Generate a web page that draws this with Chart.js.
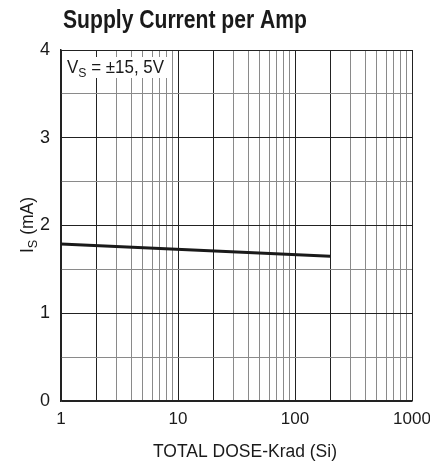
<!DOCTYPE html>
<html>
<head>
<meta charset="utf-8">
<script src="https://cdn.jsdelivr.net/npm/chart.js@4.4.0/dist/chart.umd.min.js"></script>
<style>
  html, body { margin: 0; padding: 0; background: #fff; }
  #wrap { width: 430px; height: 461px; }
</style>
</head>
<body>
<div id="wrap"><canvas id="chart" width="430" height="461"></canvas></div>
<script>
const doseKrad = [1, 200];
const supplyCurrent = [1.79, 1.65];
const xTickLabels = [1, 10, 100, 1000];
const yTickLabels = [0, 1, 2, 3, 4];

const FONT = "'Liberation Sans', Arial, sans-serif";
const INK = '#1a1a1a';

// log grid: 1..9, 10..90, 100..900, 1000
const logTicks = [];
for (let d = 1; d < 1000; d *= 10) {
  for (let m = 1; m < 10; m++) logTicks.push(m * d);
}
logTicks.push(1000);

const isMajorX = (v) => xTickLabels.includes(v) || [2, 20, 200].includes(v);

// parts: [text, size, weight, dy]; squeezed horizontally to the given width
function drawParts(ctx, parts, x, y, width, align) {
  let total = 0;
  parts.forEach((p) => {
    ctx.font = `${p[2] || ''} ${p[1]}px ${FONT}`;
    total += ctx.measureText(p[0]).width;
  });
  const k = width / total;
  ctx.save();
  ctx.translate(align === 'center' ? x - width / 2 : x, y);
  ctx.scale(k, 1);
  ctx.textAlign = 'left';
  ctx.textBaseline = 'alphabetic';
  let px = 0;
  parts.forEach((p) => {
    ctx.font = `${p[2] || ''} ${p[1]}px ${FONT}`;
    ctx.fillText(p[0], px, p[3] || 0);
    px += ctx.measureText(p[0]).width;
  });
  ctx.restore();
}

const textPlugin = {
  id: 'texts',
  afterDraw(chart) {
    const { ctx, chartArea } = chart;
    ctx.save();
    ctx.fillStyle = INK;

    drawParts(ctx, [['Supply Current per Amp', 26, 'bold']], 63, 28, 244, 'left');
    drawParts(ctx, [['TOTAL DOSE-Krad (Si)', 18]], 245, 457, 184, 'center');

    ctx.save();
    ctx.translate(33, 225);
    ctx.rotate(-Math.PI / 2);
    drawParts(ctx, [['I', 18], ['S', 13, '', 4], [' (mA)', 18]], 0, 0, 56, 'center');
    ctx.restore();

    // annotation with white backing
    ctx.fillStyle = '#fff';
    ctx.fillRect(chartArea.left + 3, chartArea.top + 7, 103, 21);
    ctx.fillStyle = INK;
    drawParts(ctx, [['V', 18], ['S', 13, '', 4], [' = \u00b115, 5V', 18]],
      chartArea.left + 6, chartArea.top + 23, 97, 'left');
    ctx.restore();
  }
};

new Chart(document.getElementById('chart'), {
  type: 'line',
  data: {
    datasets: [{
      data: doseKrad.map((x, i) => ({ x, y: supplyCurrent[i] })),
      borderColor: INK,
      borderWidth: 3,
      pointRadius: 0,
      tension: 0,
    }],
  },
  options: {
    responsive: false,
    animation: false,
    devicePixelRatio: 1,
    layout: {
      padding: { top: 50, right: 18, left: 0, bottom: 0 },
    },
    plugins: {
      legend: { display: false },
      tooltip: { enabled: false },
    },
    scales: {
      x: {
        type: 'logarithmic',
        min: 1,
        max: 1000,
        afterBuildTicks: (scale) => {
          scale.ticks = logTicks.map((value) => ({ value }));
        },
        afterFit: (scale) => {
          scale.height = 60;
          scale.paddingRight = 0;
          scale.paddingLeft = 0;
        },
        grid: {
          drawTicks: false,
          color: (c) => (c.tick && isMajorX(c.tick.value) ? '#222' : '#8a8a8a'),
          lineWidth: 1,
        },
        border: { color: '#222', width: 1.5 },
        ticks: {
          autoSkip: false,
          maxRotation: 0,
          padding: 8,
          color: INK,
          font: { family: FONT, size: 17 },
          callback: (v) => (xTickLabels.includes(v) ? String(v) : ''),
        },
      },
      y: {
        min: 0,
        max: 4,
        afterFit: (scale) => {
          scale.width = 61;
          scale.paddingTop = 0;
          scale.paddingBottom = 0;
        },
        grid: {
          drawTicks: false,
          color: (c) => (c.tick && Number.isInteger(c.tick.value) ? '#222' : '#8a8a8a'),
          lineWidth: 1,
        },
        border: { color: '#222', width: 1.5 },
        ticks: {
          stepSize: 0.5,
          padding: 11,
          color: INK,
          font: { family: FONT, size: 18 },
          callback: (v) => (yTickLabels.includes(v) ? String(v) : ''),
        },
      },
    },
  },
  plugins: [textPlugin],
});
</script>
</body>
</html>
